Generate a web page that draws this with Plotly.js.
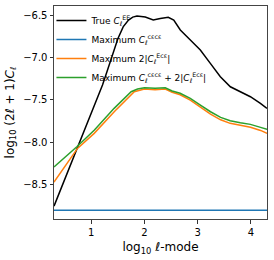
<!DOCTYPE html>
<html>
<head>
<meta charset="utf-8">
<script src="https://cdn.plot.ly/plotly-3.0.1.min.js"></script>
<style>html,body{margin:0;padding:0;background:#fff;}#chart{width:274px;height:260px;}</style>
</head>
<body>
<div id="chart"></div>
<script>
// log10 multipole values and log10 (2l+1)C_l
const blackX = [0.301, 1.15, 1.212, 1.3, 1.4, 1.5, 1.6, 1.7, 1.78, 1.859, 2.015, 2.165, 2.297, 2.447, 2.55, 2.611, 2.673, 2.767, 2.861, 3.049, 3.237, 3.425, 3.613, 3.801, 3.989, 4.177, 4.301];
const blackY = [-8.752, -7.42, -7.325, -7.16, -6.96, -6.78, -6.64, -6.56, -6.525, -6.512, -6.524, -6.559, -6.541, -6.527, -6.56, -6.618, -6.677, -6.736, -6.795, -6.913, -7.070, -7.228, -7.346, -7.404, -7.463, -7.541, -7.600];

const blueX = [0.301, 4.301];
const blueY = [-8.80, -8.80];

const orangeX = [0.301, 0.52, 0.742, 1.056, 1.432, 1.808, 2.0, 2.2, 2.39, 2.52, 2.67, 2.86, 3.05, 3.24, 3.43, 3.61, 3.8, 3.99, 4.18, 4.301];
const orangeY = [-8.47, -8.272, -8.072, -7.895, -7.640, -7.404, -7.373, -7.380, -7.373, -7.41, -7.44, -7.502, -7.59, -7.667, -7.735, -7.777, -7.80, -7.824, -7.86, -7.895];

const greenX = [0.301, 0.51, 0.73, 1.06, 1.43, 1.75, 1.87, 2.0, 2.2, 2.39, 2.52, 2.67, 2.86, 3.05, 3.24, 3.43, 3.61, 3.8, 3.99, 4.18, 4.301];
const greenY = [-8.29, -8.175, -8.053, -7.856, -7.60, -7.404, -7.372, -7.357, -7.364, -7.357, -7.396, -7.423, -7.482, -7.561, -7.640, -7.706, -7.746, -7.770, -7.789, -7.824, -7.848];

const names = [
  'True <i>C</i><sub><i>ℓ</i></sub><sup>EE</sup>',
  'Maximum <i>C</i><sub><i>ℓ</i></sub><sup>cεcε</sup>',
  'Maximum 2|<i>C</i><sub><i>ℓ</i></sub><sup>Ecε</sup>|',
  'Maximum <i>C</i><sub><i>ℓ</i></sub><sup>cεcε</sup> + 2|<i>C</i><sub><i>ℓ</i></sub><sup>Ecε</sup>|'
];
const colors = ['#000000', '#1f77b4', '#ff7f0e', '#2ca02c'];

const xs = [blackX, blueX, orangeX, greenX];
const ys = [blackY, blueY, orangeY, greenY];
const traces = xs.map((x, i) => ({
  type: 'scatter', mode: 'lines', x: x, y: ys[i], name: names[i],
  line: {color: colors[i], width: 1.5}
}));

const font = {family: 'DejaVu Sans, sans-serif', color: '#000'};

const layout = {
  width: 274, height: 260,
  margin: {l: 54, r: 7, t: 6, b: 41},
  paper_bgcolor: '#fff', plot_bgcolor: '#fff',
  font: Object.assign({size: 10}, font),
  showlegend: true,
  legend: {
    x: -0.012, y: 1.0, xanchor: 'left', yanchor: 'top',
    bgcolor: 'rgba(255,255,255,0)', borderwidth: 0,
    font: Object.assign({size: 9}, font),
    tracegroupgap: 0
  },
  xaxis: {
    range: [0.301, 4.301],
    tickvals: [1, 2, 3, 4], ticktext: ['1', '2', '3', '4'],
    ticks: 'outside', ticklen: 3.5, tickwidth: 0.8, tickcolor: '#000',
    showline: true, mirror: true, linecolor: '#444', linewidth: 1,
    showgrid: false, zeroline: false,
    tickfont: Object.assign({size: 10}, font),
    title: {text: 'log<sub>10</sub> <i>ℓ</i>-mode', font: Object.assign({size: 12}, font), standoff: 6}
  },
  yaxis: {
    range: [-8.904, -6.394],
    tickvals: [-8.5, -8.0, -7.5, -7.0, -6.5],
    ticktext: ['−8.5', '−8.0', '−7.5', '−7.0', '−6.5'],
    ticks: 'outside', ticklen: 3.5, tickwidth: 0.8, tickcolor: '#000',
    showline: true, mirror: true, linecolor: '#444', linewidth: 1,
    showgrid: false, zeroline: false,
    tickfont: Object.assign({size: 10}, font),
    title: {text: 'log<sub>10</sub> (2<i>ℓ</i> + 1)<i>C</i><sub><i>ℓ</i></sub>', font: Object.assign({size: 12}, font), standoff: 6}
  }
};

Plotly.newPlot('chart', traces, layout, {staticPlot: true, displayModeBar: false});
</script>
</body>
</html>
